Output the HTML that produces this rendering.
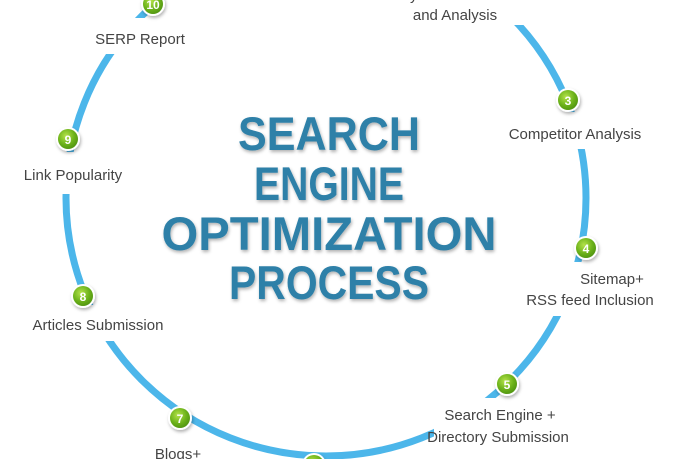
<!DOCTYPE html>
<html><head><meta charset="utf-8"><style>
html,body{margin:0;padding:0;background:#fff;}
svg{display:block;}
.l{font-family:"Liberation Sans",sans-serif;font-size:15px;fill:#444;text-anchor:middle;}
.n{font-family:"Liberation Sans",sans-serif;font-size:12px;font-weight:bold;fill:#fff;text-anchor:middle;}
.t{font-family:"Liberation Sans",sans-serif;font-size:47px;font-weight:bold;fill:#2f80a8;text-anchor:middle;}
</style></head><body>
<svg width="680" height="459" viewBox="0 0 680 459" xmlns="http://www.w3.org/2000/svg">
<defs>
<radialGradient id="g" cx="0.4" cy="0.35" r="0.7">
<stop offset="0" stop-color="#b4e24a"/><stop offset="0.6" stop-color="#6cb21a"/><stop offset="1" stop-color="#4e9210"/>
</radialGradient>
<filter id="sh"><feDropShadow dx="1" dy="2" stdDeviation="1.5" flood-color="#000" flood-opacity="0.3"/></filter>
</defs>
<ellipse cx="326" cy="198" rx="260" ry="258" fill="none" stroke="#4cb6ea" stroke-width="7"/>
<g fill="#fff">
<rect x="80" y="18" width="120" height="36"/>
<rect x="0" y="152" width="145" height="42"/>
<rect x="10" y="305" width="175" height="36"/>
<rect x="140" y="437" width="70" height="25"/>
<rect x="390" y="-5" width="150" height="30"/>
<rect x="485" y="112" width="180" height="37"/>
<rect x="510" y="262" width="165" height="54"/>
<rect x="434" y="398" width="160" height="48"/>
</g>
<g class="t" filter="url(#sh)">
<text x="329" y="150" textLength="182" lengthAdjust="spacingAndGlyphs">SEARCH</text>
<text x="329" y="200" textLength="150" lengthAdjust="spacingAndGlyphs">ENGINE</text>
<text x="329" y="250" textLength="335" lengthAdjust="spacingAndGlyphs">OPTIMIZATION</text>
<text x="329" y="299" textLength="200" lengthAdjust="spacingAndGlyphs">PROCESS</text>
</g>
<text class="l" x="140" y="44">SERP Report</text>
<text class="l" x="73" y="180">Link Popularity</text>
<text class="l" x="98" y="330">Articles Submission</text>
<text class="l" x="178" y="459">Blogs+</text>
<text class="l" x="455" y="0">Keyword Research</text>
<text class="l" x="455" y="20">and Analysis</text>
<text class="l" x="575" y="139">Competitor Analysis</text>
<text class="l" x="612" y="284">Sitemap+</text>
<text class="l" x="590" y="305">RSS feed Inclusion</text>
<text class="l" x="500" y="420">Search Engine +</text>
<text class="l" x="498" y="442">Directory Submission</text>
<g>
<g filter="url(#sh)">
<circle cx="153" cy="4" r="12" fill="#fff"/><circle cx="68" cy="139" r="12" fill="#fff"/>
<circle cx="83" cy="296" r="12" fill="#fff"/><circle cx="180" cy="418" r="12" fill="#fff"/>
<circle cx="314" cy="465" r="12" fill="#fff"/><circle cx="507" cy="384" r="12" fill="#fff"/>
<circle cx="586" cy="248" r="12" fill="#fff"/><circle cx="568" cy="100" r="12" fill="#fff"/>
</g>
<g fill="url(#g)">
<circle cx="153" cy="4" r="10"/><circle cx="68" cy="139" r="10"/>
<circle cx="83" cy="296" r="10"/><circle cx="180" cy="418" r="10"/>
<circle cx="314" cy="465" r="10"/><circle cx="507" cy="384" r="10"/>
<circle cx="586" cy="248" r="10"/><circle cx="568" cy="100" r="10"/>
</g>
<text class="n" x="153" y="9">10</text>
<text class="n" x="68" y="144">9</text>
<text class="n" x="83" y="301">8</text>
<text class="n" x="180" y="423">7</text>
<text class="n" x="507" y="389">5</text>
<text class="n" x="586" y="253">4</text>
<text class="n" x="568" y="105">3</text>
</g>
</svg>
</body></html>
